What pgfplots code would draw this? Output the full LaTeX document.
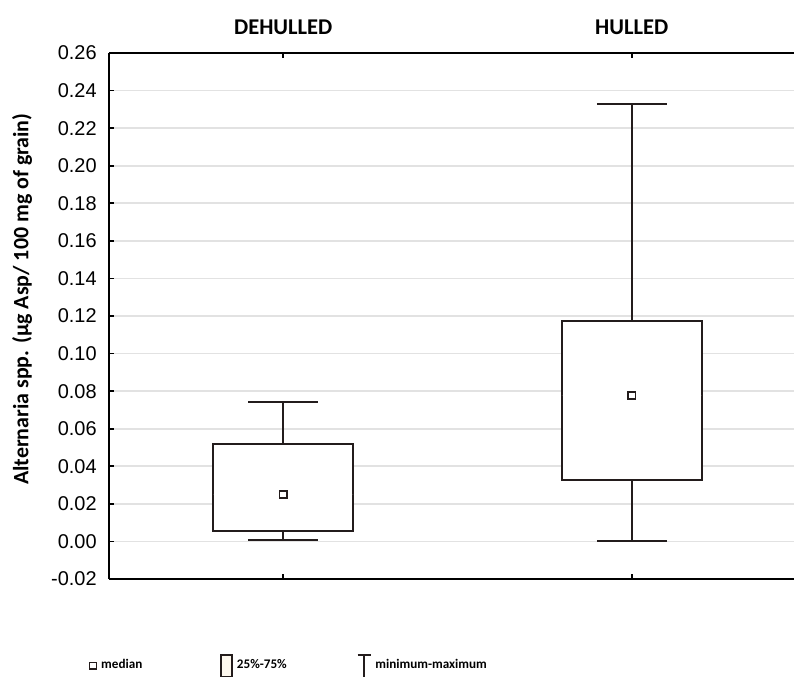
\documentclass[border=0pt]{standalone}
\usepackage{pgfplots}
\pgfplotsset{compat=1.18}
\usepgfplotslibrary{statistics}
\usepackage{fontspec}
\setmainfont{Liberation Sans}
\newfontfamily\calibri{Carlito}
\definecolor{boxc}{HTML}{231C1C}
\definecolor{gridc}{HTML}{E2E2E2}
\definecolor{legfill}{HTML}{FDF8EE}
\begin{document}
\begin{tikzpicture}
\begin{axis}[
  name=ax,
  scale only axis, width=342.5bp, height=263bp,
  xmin=-0.5, xmax=1.4655, ymin=-0.02, ymax=0.26,
  axis x line*=box, axis y line*=left,
  axis line style={line width=1.1bp, black},
  xtick={0,1}, xticklabels={DEHULLED,HULLED},
  xticklabel pos=upper,
  xticklabel style={font=\calibri\bfseries\fontsize{11.3}{13}\selectfont, anchor=center, yshift=12.75bp},
  ytick={-0.02,0,0.02,0.04,0.06,0.08,0.1,0.12,0.14,0.16,0.18,0.2,0.22,0.24,0.26},
  yticklabel style={font=\fontsize{10}{12}\selectfont, anchor=east, inner sep=0pt, xshift=-6bp,
    /pgf/number format/fixed, /pgf/number format/fixed zerofill, /pgf/number format/precision=2,
    /pgf/number format/assume math mode=true},
  tick align=inside, major tick length=2.5bp,
  tick style={black, line width=0.8bp},
  ymajorgrids, major grid style={gridc, line width=0.8bp},
  ylabel={\calibri\bfseries Alternaria spp. (µg Asp/ 100 mg of grain)},
  every axis y label/.style={at={(rel axis cs:-0.127,0.532)}, rotate=90, anchor=center, font=\fontsize{11}{13}\selectfont},
  legend columns=3,
  legend style={draw=none, fill=none, at={(rel axis cs:0.264,-0.165)}, anchor=center,
    font=\calibri\bfseries\fontsize{6.6}{8}\selectfont,
    /tikz/column 2/.style={column sep=37bp},
    /tikz/column 4/.style={column sep=33bp}},
  boxplot/draw direction=y,
]
\addplot[boxc, line width=1bp, fill=white, forget plot,
  boxplot/every median/.style={draw=none},
  boxplot prepared={draw position=0, lower whisker=0.001, lower quartile=0.0055,
    median=0.025, upper quartile=0.052, upper whisker=0.074,
    box extend=0.402, whisker extend=0.2}] coordinates {};
\addplot[boxc, line width=1bp, fill=white, forget plot,
  boxplot/every median/.style={draw=none},
  boxplot prepared={draw position=1, lower whisker=0.0, lower quartile=0.0325,
    median=0.0777, upper quartile=0.1176, upper whisker=0.233,
    box extend=0.402, whisker extend=0.2}] coordinates {};
\addplot[only marks, mark=square*, mark size=1.9bp, mark options={draw=boxc, fill=white, line width=0.9bp}, forget plot]
  coordinates {(0,0.025) (1,0.0777)};
\addlegendimage{legend image code/.code={\draw[boxc, line width=0.8bp, fill=white] (0bp,-1.7bp) rectangle (3.4bp,1.7bp);}}
\addlegendentry{median}
\addlegendimage{legend image code/.code={\draw[boxc, line width=0.8bp, fill=legfill] (0bp,-5.5bp) rectangle (5.5bp,5.5bp);}}
\addlegendentry{25\%-75\%}
\addlegendimage{legend image code/.code={\draw[boxc, line width=0.8bp] (0bp,5.5bp) -- (6.5bp,5.5bp) (3.25bp,5.5bp) -- (3.25bp,-5.5bp);}}
\addlegendentry{minimum-maximum}
\end{axis}
\pgfresetboundingbox
\path[use as bounding box] ([xshift=-54.5bp,yshift=-49bp]ax.south west) rectangle ([yshift=26.5bp]ax.north east);
\end{tikzpicture}
\end{document}
